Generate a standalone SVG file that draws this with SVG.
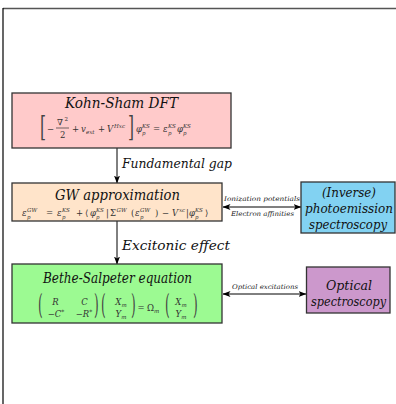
<svg xmlns="http://www.w3.org/2000/svg" width="396" height="404" viewBox="0 0 396 404">
<defs>
<marker id="ah" markerWidth="8" markerHeight="6" refX="7.5" refY="3" orient="auto-start-reverse" markerUnits="userSpaceOnUse">
<path d="M0,0 L8,3 L0,6 L2,3 z" fill="#000"/>
</marker>
</defs>
<style>
.box{stroke:#333;stroke-width:1.3}
.t{font-family:'DejaVu Serif','Liberation Serif',serif;font-style:italic;fill:#111}
.m{font-family:'DejaVu Serif','Liberation Serif',serif;font-size:8.5px;fill:#333}
.i{font-style:italic}
.s{font-size:5.5px}
.b{font-size:22px;fill:#444;font-weight:normal}
.lbl{font-family:'DejaVu Serif','Liberation Serif',serif;font-style:italic;fill:#222;font-size:6.5px}
</style>
<rect width="396" height="404" fill="#fff"/>
<line x1="3" y1="8.5" x2="396" y2="8.5" stroke="#555" stroke-width="1.5"/>
<line x1="3" y1="8" x2="3" y2="404" stroke="#000" stroke-width="1.2"/>

<g id="connectors">
<line x1="117" y1="148" x2="117" y2="183" stroke="#000" stroke-width="1" marker-end="url(#ah)"/>
<line x1="117" y1="221" x2="117" y2="264" stroke="#000" stroke-width="1" marker-end="url(#ah)"/>
<line x1="223" y1="207" x2="301" y2="207" stroke="#000" stroke-width="1" marker-start="url(#ah)" marker-end="url(#ah)"/>
<line x1="223" y1="294" x2="306" y2="294" stroke="#000" stroke-width="1" marker-start="url(#ah)" marker-end="url(#ah)"/>
<text class="t" x="122" y="168" font-size="13" textLength="110" lengthAdjust="spacingAndGlyphs">Fundamental gap</text>
<text class="t" x="122" y="250" font-size="13" textLength="108" lengthAdjust="spacingAndGlyphs">Excitonic effect</text>
<text class="lbl" x="262" y="201" text-anchor="middle" textLength="76" lengthAdjust="spacingAndGlyphs">Ionization potentials</text>
<text class="lbl" x="262.5" y="216" text-anchor="middle" textLength="63" lengthAdjust="spacingAndGlyphs">Electron affinities</text>
<text class="lbl" x="265" y="289" text-anchor="middle" textLength="66" lengthAdjust="spacingAndGlyphs">Optical excitations</text>
</g>

<g id="ks">
<rect class="box" x="12" y="93" width="219" height="55" fill="#FFCACA"/>
<text class="t" x="121.5" y="108" font-size="14" text-anchor="middle" textLength="113" lengthAdjust="spacingAndGlyphs">Kohn-Sham DFT</text>
<g class="m">
<text class="b" transform="translate(40,136) scale(0.7,1.25)">[</text>
<text x="47" y="132">−</text>
<text x="57" y="125">∇</text><text class="s" x="64.5" y="121">2</text>
<line x1="56" y1="128" x2="69" y2="128" stroke="#333" stroke-width="0.7"/>
<text x="60" y="138">2</text>
<text x="72" y="132">+</text>
<text class="i" x="81" y="132">v</text><text class="s i" x="86" y="134">ext</text>
<text x="98" y="132">+</text>
<text class="i" x="107" y="132">V</text><text class="s i" x="114" y="128">Hxc</text>
<text class="b" transform="translate(128,136) scale(0.7,1.25)">]</text>
<text class="i" x="136" y="132">φ</text><text class="s i" x="142" y="128">KS</text><text class="s i" x="142" y="135">p</text>
<text x="153" y="132">=</text>
<text class="i" x="163" y="132">ε</text><text class="s i" x="168" y="128">KS</text><text class="s i" x="168" y="135">p</text>
<text class="i" x="177" y="132">φ</text><text class="s i" x="183" y="128">KS</text><text class="s i" x="183" y="135">p</text>
</g>
</g>

<g id="gw">
<rect class="box" x="12" y="183" width="210" height="38" fill="#FFE4CA"/>
<text class="t" x="117.5" y="200" font-size="15" text-anchor="middle" textLength="125" lengthAdjust="spacingAndGlyphs">GW  approximation</text>
<g class="m">
<text class="i" x="22" y="216">ε</text><text class="s i" x="27" y="212">GW</text><text class="s i" x="27" y="219">p</text>
<text x="46" y="216">=</text>
<text class="i" x="57" y="216">ε</text><text class="s i" x="62" y="212">KS</text><text class="s i" x="62" y="219">p</text>
<text x="76" y="216">+</text>
<text x="85" y="216">⟨</text>
<text class="i" x="90" y="216">φ</text><text class="s i" x="96" y="212">KS</text><text class="s i" x="96" y="219">p</text>
<text x="106" y="216">|</text>
<text x="110" y="216">Σ</text><text class="s i" x="116.5" y="212">GW</text>
<text x="131" y="216">(</text>
<text class="i" x="135" y="216">ε</text><text class="s i" x="140" y="212">GW</text><text class="s i" x="140" y="219">p</text>
<text x="155" y="216">)</text>
<text x="162" y="216">−</text>
<text class="i" x="172" y="216">V</text><text class="s i" x="179" y="212">xc</text>
<text x="186" y="216">|</text>
<text class="i" x="189" y="216">φ</text><text class="s i" x="195" y="212">KS</text><text class="s i" x="195" y="219">p</text>
<text x="205" y="216">⟩</text>
</g>
</g>

<g id="bse">
<rect class="box" x="12" y="264" width="210" height="59" fill="#9CFA92"/>
<text class="t" x="117.5" y="283" font-size="14" text-anchor="middle" textLength="149" lengthAdjust="spacingAndGlyphs">Bethe-Salpeter equation</text>
<g class="m">
<text class="b" transform="translate(38,314) scale(0.55,1.3)">(</text>
<text class="i" x="55.5" y="305" text-anchor="middle">R</text>
<text class="i" x="84.5" y="305" text-anchor="middle">C</text>
<text x="56" y="317" text-anchor="middle">−<tspan class="i">C</tspan><tspan font-size="6" dy="-3">*</tspan></text>
<text x="84" y="317" text-anchor="middle">−<tspan class="i">R</tspan><tspan font-size="6" dy="-3">*</tspan></text>
<text class="b" transform="translate(94,314) scale(0.55,1.3)">)</text>
<text class="b" transform="translate(101,314) scale(0.55,1.3)">(</text>
<text class="i" x="121" y="305" text-anchor="middle">X<tspan font-size="5.5" dy="2">m</tspan></text>
<text class="i" x="121" y="317" text-anchor="middle">Y<tspan font-size="5.5" dy="2">m</tspan></text>
<text class="b" transform="translate(131,314) scale(0.55,1.3)">)</text>
<text x="137.5" y="311">=</text>
<text x="147" y="311">Ω<tspan class="i" font-size="5.5" dy="2">m</tspan></text>
<text class="b" transform="translate(165,314) scale(0.55,1.3)">(</text>
<text class="i" x="181" y="305" text-anchor="middle">X<tspan font-size="5.5" dy="2">m</tspan></text>
<text class="i" x="181" y="317" text-anchor="middle">Y<tspan font-size="5.5" dy="2">m</tspan></text>
<text class="b" transform="translate(193,314) scale(0.55,1.3)">)</text>
</g>
</g>

<g id="photo">
<rect class="box" x="301" y="182" width="94" height="51" fill="#82D2F2"/>
<text class="t" x="349" y="197" font-size="13" text-anchor="middle" textLength="54" lengthAdjust="spacingAndGlyphs">(Inverse)</text>
<text class="t" x="349" y="213" font-size="12" text-anchor="middle" textLength="88" lengthAdjust="spacingAndGlyphs">photoemission</text>
<text class="t" x="348" y="229" font-size="12.5" text-anchor="middle" textLength="78" lengthAdjust="spacingAndGlyphs">spectroscopy</text>
</g>

<g id="optical">
<rect class="box" x="306.5" y="267" width="83.5" height="46" fill="#CC98CC"/>
<text class="t" x="349" y="290" font-size="13" text-anchor="middle" textLength="46" lengthAdjust="spacingAndGlyphs">Optical</text>
<text class="t" x="348.5" y="306" font-size="12" text-anchor="middle" textLength="75" lengthAdjust="spacingAndGlyphs">spectroscopy</text>
</g>
</svg>
